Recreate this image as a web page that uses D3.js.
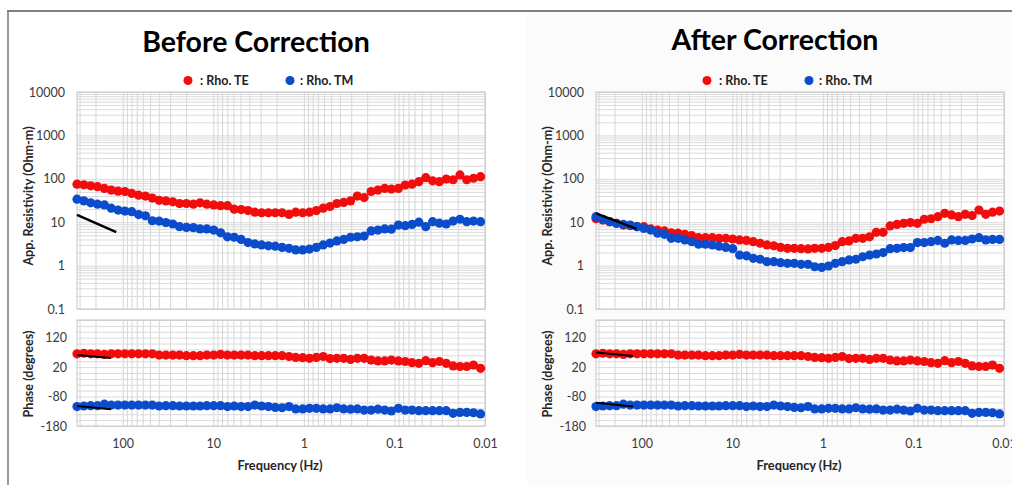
<!DOCTYPE html>
<html><head><meta charset="utf-8">
<script src="https://cdn.jsdelivr.net/npm/d3@7"></script>
<style>
body{margin:0;background:#fff;}
svg{display:block;}
text{font-family:Lato,"Open Sans",sans-serif;}
</style>
</head><body>
<svg id="chart" width="1012" height="485"></svg>
<script>
// ---------------- data ----------------
const freqs = [320,268.9,226,189.9,159.6,134.1,112.7,94.7,79.6,66.9,
  56.2,47.2,39.7,33.4,28,23.6,19.8,16.6,14,11.8,
  9.89,8.31,6.98,5.87,4.93,4.14,3.48,2.93,2.46,2.07,
  1.74,1.46,1.23,1.03,0.867,0.728,0.612,0.514,0.432,0.363,
  0.305,0.257,0.216,0.181,0.152,0.128,0.108,0.0904,0.076,0.0639,
  0.0537,0.0451,0.0379,0.0319,0.0268,0.0225,0.0189,0.0159,0.0134,0.0112];

const rhoTEBefore = [75,73,69,66,60,55,52,51,46,42,
  40,36,32,31,29.5,27,27,26,28,26,
  25,24,24,20,19.5,18.5,17,16.5,16.5,16.5,
  16.5,15.1,17,16.5,17,18.5,21,23,27,28.5,
  31,40,37,51,55,60,58,60,72,75,
  86,106,90,86,99,95,123,95,103,112];
const rhoTMBefore = [34,31,28,26,25,21,19,18,17.5,15,
  14,10.8,10.6,9.8,9.1,7.9,7.6,7.5,7.0,7.0,
  6.6,5.7,4.6,4.5,4.0,3.4,3.15,3.0,2.85,2.8,
  2.63,2.5,2.3,2.3,2.4,2.63,3.0,3.3,3.7,4.0,
  4.5,4.6,4.8,6.3,6.6,7.0,6.9,8.6,8.3,8.9,
  10,7.9,10.3,9.5,9.1,10.6,11.7,10.3,10.6,10.3];

const rhoTEAfter = [12,11.2,10.3,9.4,8.6,8.3,7.9,7.9,7.0,6.6,
  6.3,5.7,5.6,5.25,4.9,4.4,4.4,4.4,4.25,4.25,
  4.1,3.9,3.8,3.55,3.27,3.0,2.85,2.63,2.5,2.5,
  2.45,2.42,2.5,2.5,2.63,2.9,3.55,3.7,4.25,4.25,
  4.6,5.85,5.85,8.2,8.9,9.4,9.8,9.4,11.7,12,
  13.4,16,14.7,13.4,15.2,14.2,19,15.2,17,18];
const rhoTMAfter = [13.4,11.7,10.3,9.4,8.9,8.6,7.9,7.2,6.6,5.6,
  5.25,4.25,4.25,3.9,3.55,3.1,3.1,3.0,2.8,2.63,
  2.45,1.75,1.68,1.47,1.4,1.23,1.23,1.17,1.13,1.13,
  1.07,1.07,0.94,0.91,0.98,1.13,1.23,1.35,1.4,1.6,
  1.75,1.85,2.0,2.45,2.5,2.6,2.6,3.4,3.4,3.55,
  3.8,3.27,3.9,3.8,3.8,4.1,4.4,3.9,4.0,4.0];

const phaseTE = [65,67,65,65,63,65,65,65,65,65,
  65,65,61,61,61,61,59,59,59,61,
  61,63,61,61,61,61,59,59,59,59,
  59,56,53,52,50,53,56,49,50,50,
  46,50,50,44,41,41,44,41,39,35,
  33,42,35,39,33,24,22,22,27,16];
const phaseTM = [-114,-112,-111,-111,-106,-109,-109,-109,-109,-109,
  -109,-109,-112,-111,-111,-112,-112,-112,-112,-111,
  -111,-111,-114,-112,-114,-114,-109,-112,-114,-117,
  -118,-114,-122,-122,-120,-120,-122,-122,-118,-122,
  -123,-122,-126,-126,-123,-126,-129,-120,-126,-126,
  -128,-128,-128,-128,-128,-137,-134,-134,-135,-139];

// black reference slopes
const refFreqBefore = [320,118];
const refRhoBefore = [14.7,5.9];
const refFreqAfter = [320,114];
const refRhoAfter = [16,7.0];
const refPhFreqBefore = [320,135];
const refPhTEBefore = [61,51];
const refPhTMBefore = [-112,-123];
const refPhFreqAfter = [320,125];
const refPhTEAfter = [70,58];
const refPhTMAfter = [-101,-114];

const rhoTicks = [0.1,1,10,100,1000,10000];
const phaseTicks = [-180,-80,20,120];
const freqTicks = [100,10,1,0.1,0.01];
const titles = ["Before Correction","After Correction"];
const legendLabels = [": Rho. TE",": Rho. TM"];
const axisTitles = ["App. Resistivity (Ohm-m)","Phase (degrees)","Frequency (Hz)"];

// ---------------- drawing ----------------
const RED = "#f20d0d", BLUE = "#0a4ccb";
const svg = d3.select("#chart");

svg.append("rect").attr("x",527).attr("y",12).attr("width",485).attr("height",473).attr("fill","#fbfbfb");
svg.append("line").attr("x1",7).attr("x2",1012).attr("y1",11).attr("y2",11).attr("stroke","#808080").attr("stroke-width",2);
svg.append("line").attr("x1",8).attr("x2",8).attr("y1",11).attr("y2",485).attr("stroke","#808080").attr("stroke-width",1.6);

function panel(cfg){
  const dx = cfg.dx;
  const g = svg.append("g");
  const x = d3.scaleLog().domain([freqs[0],0.01]).range([77+dx,485+dx]);
  const yR = d3.scaleLog().domain([0.1,10000]).range([309,92]);
  const yP = d3.scaleLinear().domain([-180,180]).range([426,320]);
  const x0 = 77+dx, x1 = 485+dx;
  const minorX = x.ticks().filter(f => f <= freqs[0]);

  // plot backgrounds
  g.append("rect").attr("x",x0).attr("y",92).attr("width",x1-x0).attr("height",309-92).attr("fill","#fff");
  g.append("rect").attr("x",x0).attr("y",320).attr("width",x1-x0).attr("height",426-320).attr("fill","#fff");

  function styleGrid(sel,col){
    sel.select(".domain").remove();
    sel.selectAll("line").attr("stroke",col).attr("stroke-width",1);
  }
  // vertical gridlines
  g.append("g").attr("transform","translate(0,309)")
    .call(d3.axisBottom(x).tickValues(minorX).tickSize(-(309-92)).tickFormat(""))
    .call(s=>styleGrid(s,"#d6d6d6"));
  g.append("g").attr("transform","translate(0,426)")
    .call(d3.axisBottom(x).tickValues(minorX).tickSize(-(426-320)).tickFormat(""))
    .call(s=>styleGrid(s,"#d6d6d6"));
  // horizontal gridlines
  g.append("g").attr("transform",`translate(${x0},0)`)
    .call(d3.axisLeft(yR).tickValues(yR.ticks()).tickSize(-(x1-x0)).tickFormat(""))
    .call(s=>styleGrid(s,"#dadada"));
  g.append("g").attr("transform",`translate(${x0},0)`)
    .call(d3.axisLeft(yP).tickValues(yP.ticks(18)).tickSize(-(x1-x0)).tickFormat(""))
    .call(s=>styleGrid(s,"#dadada"));

  // plot borders
  g.append("rect").attr("x",x0).attr("y",92).attr("width",x1-x0).attr("height",309-92)
    .attr("fill","none").attr("stroke","#c6c6c6");
  g.append("rect").attr("x",x0).attr("y",320).attr("width",x1-x0).attr("height",426-320)
    .attr("fill","none").attr("stroke","#c6c6c6");

  function styleLabels(sel){
    sel.select(".domain").remove();
    sel.selectAll("text").attr("font-family","Lato, sans-serif").attr("font-size","12.5px").attr("fill","#3a3a3a");
  }
  g.append("g").attr("transform",`translate(${x0},0)`)
    .call(d3.axisLeft(yR).tickValues(rhoTicks).tickSize(0).tickPadding(12).tickFormat(d=>String(d)))
    .call(styleLabels);
  g.append("g").attr("transform",`translate(${x0},0)`)
    .call(d3.axisLeft(yP).tickValues(phaseTicks).tickSize(0).tickPadding(10).tickFormat(d=>String(d)))
    .call(styleLabels);
  g.append("g").attr("transform","translate(0,426)")
    .call(d3.axisBottom(x).tickValues(freqTicks).tickSize(0).tickPadding(13.5).tickFormat(d=>String(d)))
    .call(styleLabels);

  // data points
  function dots(vals, y, col){
    g.append("g").selectAll("circle").data(vals).join("circle")
      .attr("cx",(d,i)=>x(freqs[i])).attr("cy",d=>y(d)).attr("r",4.6).attr("fill",col);
  }
  dots(cfg.te, yR, RED);
  dots(cfg.tm, yR, BLUE);
  dots(phaseTE, yP, RED);
  dots(phaseTM, yP, BLUE);

  // reference lines
  const refLine = (fs, vs, y, w) => g.append("path")
    .attr("d", d3.line().x((d,i)=>x(fs[i])).y(d=>y(d))(vs))
    .attr("stroke","#000").attr("stroke-width",w).attr("fill","none");
  refLine(cfg.refF, cfg.refR, yR, 2.5);
  refLine(cfg.refPF, cfg.refPTE, yP, 2);
  refLine(cfg.refPF, cfg.refPTM, yP, 2);

  // title
  g.append("text").attr("x",256+dx).attr("y",cfg.titleY).attr("text-anchor","middle")
    .attr("font-size","28.5px").attr("font-weight","bold").attr("fill","#000").text(cfg.title);

  // legend
  g.append("circle").attr("cx",188+dx).attr("cy",80.5).attr("r",4.5).attr("fill",RED);
  g.append("text").attr("x",200+dx).attr("y",84.5).attr("font-size","12.5px").attr("font-weight","bold").attr("fill","#222").text(legendLabels[0]);
  g.append("circle").attr("cx",290+dx).attr("cy",80.5).attr("r",4.5).attr("fill",BLUE);
  g.append("text").attr("x",300+dx).attr("y",84.5).attr("font-size","12.5px").attr("font-weight","bold").attr("fill","#222").text(legendLabels[1]);

  // axis titles
  g.append("text").attr("transform",`translate(${32.5+dx},196) rotate(-90)`).attr("text-anchor","middle")
    .attr("font-size","12.6px").attr("font-weight","bold").attr("fill","#262626").text(axisTitles[0]);
  g.append("text").attr("transform",`translate(${32.5+dx},374) rotate(-90)`).attr("text-anchor","middle")
    .attr("font-size","12.6px").attr("font-weight","bold").attr("fill","#262626").text(axisTitles[1]);
  g.append("text").attr("x",280+dx).attr("y",470).attr("text-anchor","middle")
    .attr("font-size","12.8px").attr("font-weight","bold").attr("fill","#262626").text(axisTitles[2]);
}

panel({dx:0, title:titles[0], titleY:52, te:rhoTEBefore, tm:rhoTMBefore,
  refF:refFreqBefore, refR:refRhoBefore, refPF:refPhFreqBefore, refPTE:refPhTEBefore, refPTM:refPhTMBefore});
panel({dx:519, title:titles[1], titleY:50, te:rhoTEAfter, tm:rhoTMAfter,
  refF:refFreqAfter, refR:refRhoAfter, refPF:refPhFreqAfter, refPTE:refPhTEAfter, refPTM:refPhTMAfter});
</script>
</body></html>
